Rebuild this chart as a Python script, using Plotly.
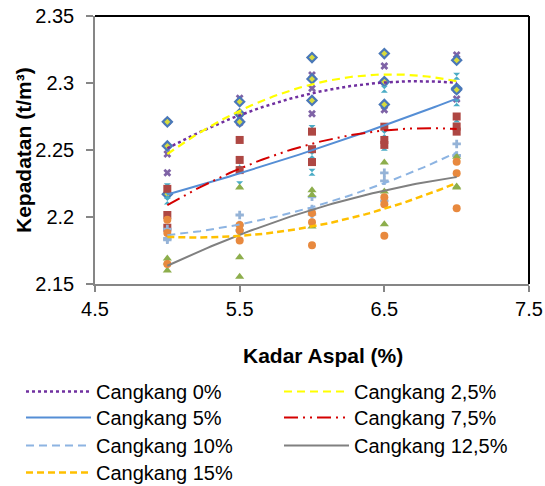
import numpy as np
import plotly.graph_objects as go

# Kadar aspal (%) for each specimen (3 specimens per asphalt content)
kadar = [5.0, 5.0, 5.0, 5.5, 5.5, 5.5, 6.0, 6.0, 6.0, 6.5, 6.5, 6.5, 7.0, 7.0, 7.0]

# Kepadatan (t/m3) for each shell (cangkang) content
cangkang_0 = [2.271, 2.247, 2.233, 2.2886, 2.274, 2.2704, 2.306, 2.296, 2.277, 2.3127, 2.301, 2.280, 2.321, 2.295, 2.288]
cangkang_2_5 = [2.271, 2.253, 2.217, 2.286, 2.277, 2.271, 2.319, 2.303, 2.287, 2.322, 2.301, 2.284, 2.317, 2.296, 2.295]
cangkang_5 = [2.2165, 2.212, 2.2225, 2.239, 2.224, 2.2348, 2.2463, 2.2334, 2.266, 2.2953, 2.262, 2.252, 2.305, 2.2853, 2.2731]
cangkang_7_5 = [2.221, 2.2015, 2.192, 2.2575, 2.2426, 2.235, 2.2637, 2.2506, 2.241, 2.2674, 2.2575, 2.2538, 2.275, 2.2675, 2.2637]
cangkang_10 = [2.191, 2.183, 2.184, 2.2015, 2.194, 2.190, 2.215, 2.206, 2.202, 2.233, 2.227, 2.212, 2.2545, 2.2456, 2.246]
cangkang_12_5 = [2.169, 2.166, 2.160, 2.170, 2.1555, 2.222, 2.220, 2.2165, 2.193, 2.2406, 2.219, 2.1946, 2.245, 2.2227, 2.222]
cangkang_15 = [2.198, 2.188, 2.165, 2.194, 2.190, 2.1824, 2.203, 2.196, 2.179, 2.2148, 2.2095, 2.186, 2.2413, 2.2326, 2.2065]

names = ["Cangkang 0%", "Cangkang 2,5%", "Cangkang 5%", "Cangkang 7,5%",
         "Cangkang 10%", "Cangkang 12,5%", "Cangkang 15%"]
series = [cangkang_0, cangkang_2_5, cangkang_5, cangkang_7_5,
          cangkang_10, cangkang_12_5, cangkang_15]

x_ticks = [4.5, 5.5, 6.5, 7.5]
y_ticks = [2.15, 2.2, 2.25, 2.3, 2.35]
y_ticktext = ["2.15", "2.2", "2.25", "2.3", "2.35"]

# marker styles (symbol, fill, outline, outline width, size)
markers = [
    ("x", "#7F63A6", "#7F63A6", 0, 7),
    ("diamond", "#D8DC3C", "#4A78B8", 2.2, 7),
    ("hourglass", "#4BACC6", "#4BACC6", 0, 7),
    ("square", "#AE4743", "#AE4743", 0, 8),
    ("cross", "#95B3D7", "#95B3D7", 0, 7),
    ("triangle-up", "#8DAE4C", "#8DAE4C", 0, 8),
    ("circle", "#E8893E", "#E8893E", 0, 8),
]
# trendline styles (color, dash, width)
trend_styles = [
    ("#7030A0", "dot", 2.5),
    ("#FFFF00", "8px,5px", 2.2),
    ("#558ED5", "solid", 2),
    ("#D40000", "14px,5px,2px,5px,2px,5px", 2),
    ("#8DB4E2", "8px,5px", 2),
    ("#808080", "solid", 2),
    ("#FFC000", "7px,4px", 2.5),
]
# legend layout: two columns (left px), four rows (centre px)
legend_cols = [21, 279]
legend_rows = [392, 418, 446, 473]

FONT = "Arial, Liberation Sans, sans-serif"
fig = go.Figure()

for (sym, fill, outl, lw, sz), vals in zip(markers, series):
    fig.add_trace(go.Scatter(
        x=kadar, y=vals, mode="markers", showlegend=False, hoverinfo="skip",
        marker=dict(symbol=sym, color=fill, size=sz, line=dict(color=outl, width=lw)),
    ))

xs = np.linspace(min(kadar), max(kadar), 80)
legends = {}
for i, (name, vals, (col, dash, w)) in enumerate(zip(names, series, trend_styles)):
    coef = np.polyfit(kadar, vals, 2)
    lg = "legend" if i == 0 else f"legend{i + 1}"
    fig.add_trace(go.Scatter(
        x=xs, y=np.polyval(coef, xs), mode="lines", name=name, legend=lg,
        line=dict(color=col, dash=dash, width=w), hoverinfo="skip",
    ))
    legends[lg] = dict(
        xref="container", yref="container",
        x=legend_cols[i % 2] / 545, y=1 - (legend_rows[i // 2] - 20) / 486,
        xanchor="left", yanchor="top", orientation="v", itemwidth=65,
        font=dict(size=20), bgcolor="rgba(0,0,0,0)",
    )

fig.update_layout(
    width=545, height=486,
    margin=dict(l=95, r=16, t=16, b=202, autoexpand=False),
    paper_bgcolor="white", plot_bgcolor="white",
    font=dict(family=FONT, size=20, color="black"),
    xaxis=dict(
        range=[4.5, 7.5], tickvals=x_ticks, ticks="outside", ticklen=6,
        tickcolor="#868686", tickwidth=1.5, showline=True, linecolor="#868686",
        linewidth=1.5, showgrid=False, zeroline=False,
        tickfont=dict(size=20),
    ),
    yaxis=dict(
        range=[2.15, 2.35], tickvals=y_ticks, ticktext=y_ticktext, ticks="outside",
        ticklen=7, tickcolor="#868686", tickwidth=1.5, showline=True,
        linecolor="#868686", linewidth=1.5, showgrid=False, zeroline=False,
        tickfont=dict(size=20), ticklabelstandoff=8,
    ),
    annotations=[
        dict(text="<b>Kadar Aspal (%)</b>", xref="paper", yref="paper",
             x=(323 - 95) / 434, y=-(355 - 284) / 268, xanchor="center",
             yanchor="middle", showarrow=False, font=dict(size=21)),
        dict(text="<b>Kepadatan (t/m³)</b>", xref="paper", yref="paper",
             x=-(95 - 23) / 434, y=0.5, xanchor="center", yanchor="middle",
             textangle=-90, showarrow=False, font=dict(size=21)),
    ],
    shapes=[
        dict(type="line", xref="paper", yref="paper", x0=0, x1=1, y0=1, y1=1,
             line=dict(color="black", width=2)),
        dict(type="line", xref="paper", yref="paper", x0=1, x1=1, y0=0, y1=1,
             line=dict(color="black", width=2)),
    ],
    **legends,
)

fig.write_html("out.html")
